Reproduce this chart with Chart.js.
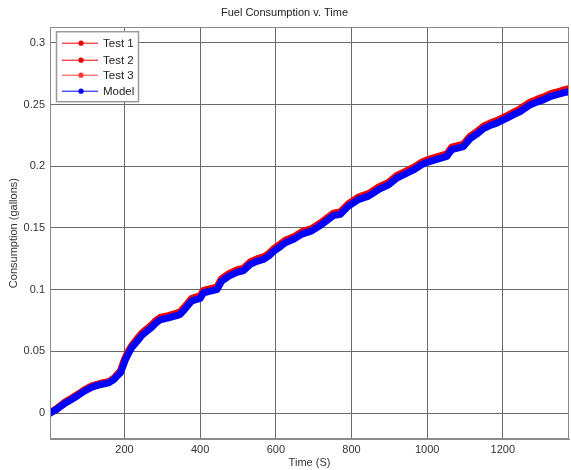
<!DOCTYPE html>
<html>
<head>
<meta charset="utf-8">
<script src="https://cdn.jsdelivr.net/npm/chart.js@4/dist/chart.umd.min.js"></script>
<style>
  html, body { margin: 0; padding: 0; background: #ffffff; }
  #wrap { width: 571px; height: 470px; }
</style>
</head>
<body>
<div id="wrap"><canvas id="c" width="571" height="470"></canvas></div>
<script>
const TITLE = 'Fuel Consumption v. Time';
const X_LABEL = 'Time (S)';
const Y_LABEL = 'Consumption (gallons)';
const SERIES_NAMES = ['Test 1', 'Test 2', 'Test 3', 'Model'];
const X_TICKS = [200, 400, 600, 800, 1000, 1200];
const Y_TICKS = [0, 0.05, 0.1, 0.15, 0.2, 0.25, 0.3];

const TIME = [3,20,43,60,78,95,114,135,158,171,
  180,189,196,202,210,220,233,246,258,272,
  283,294,316,338,347,356,367,378,400,409,
  430,444,457,476,497,515,532,550,567,580,
  594,610,625,648,669,695,722,752,770,792,
  818,845,871,898,920,944,964,986,1008,1030,
  1052,1065,1096,1114,1131,1149,1166,1184,1211,1230,
  1246,1272,1290,1307,1325,1343,1360,1375];

const MODEL = [0.000,0.003,0.008,0.011,0.0145,0.018,0.021,0.023,0.0245,0.027,
  0.030,0.0325,0.038,0.043,0.048,0.0535,0.058,0.063,0.066,0.0696,
  0.073,0.0755,0.0772,0.079,0.080,0.083,0.087,0.091,0.093,0.0975,
  0.099,0.100,0.107,0.111,0.114,0.1155,0.1205,0.123,0.1245,0.127,
  0.131,0.1345,0.138,0.141,0.145,0.1476,0.153,0.160,0.161,0.1677,
  0.173,0.1758,0.181,0.185,0.1905,0.194,0.197,0.2014,0.204,0.206,
  0.208,0.2135,0.216,0.2225,0.226,0.2305,0.233,0.235,0.239,0.242,
  0.2444,0.2497,0.252,0.2538,0.2565,0.258,0.2595,0.2605];

const TEST1 = [0.000,0.0035,0.009,0.012,0.0155,0.019,0.022,0.024,0.0255,0.028,
  0.031,0.034,0.040,0.045,0.050,0.055,0.060,0.065,0.068,0.0716,
  0.075,0.0775,0.079,0.081,0.082,0.085,0.089,0.093,0.095,0.0995,
  0.101,0.102,0.109,0.113,0.116,0.1175,0.1225,0.125,0.1265,0.129,
  0.133,0.1365,0.140,0.143,0.147,0.1496,0.155,0.162,0.163,0.1697,
  0.175,0.1778,0.183,0.187,0.1925,0.196,0.199,0.2034,0.206,0.208,
  0.210,0.2155,0.218,0.2245,0.228,0.2325,0.235,0.237,0.241,0.244,
  0.2466,0.2519,0.2542,0.256,0.2587,0.2602,0.2618,0.2628];

const TEST2 = [0.000,0.003,0.0085,0.0115,0.015,0.0185,0.0215,0.0235,0.025,0.0275,
  0.0305,0.0335,0.039,0.044,0.049,0.0545,0.059,0.064,0.067,0.0706,
  0.074,0.0765,0.0782,0.080,0.081,0.084,0.088,0.092,0.094,0.0985,
  0.100,0.101,0.108,0.112,0.115,0.1165,0.1215,0.124,0.1255,0.128,
  0.132,0.1355,0.139,0.142,0.146,0.1486,0.154,0.161,0.162,0.1687,
  0.174,0.1768,0.182,0.186,0.1915,0.195,0.198,0.2024,0.205,0.207,
  0.209,0.2145,0.217,0.2235,0.227,0.2315,0.234,0.236,0.240,0.243,
  0.2456,0.2509,0.2532,0.255,0.2577,0.2592,0.2608,0.2618];

const TEST3 = [0.000,0.0032,0.0088,0.0118,0.0152,0.0188,0.0218,0.0238,0.0252,0.0278,
  0.0308,0.0338,0.0395,0.0445,0.0495,0.0548,0.0595,0.0645,0.0675,0.071,
  0.0745,0.077,0.0786,0.0805,0.0815,0.0845,0.0885,0.0925,0.0945,0.099,
  0.1005,0.1015,0.1085,0.1125,0.1155,0.117,0.122,0.1245,0.126,0.1285,
  0.1325,0.136,0.1395,0.1425,0.1465,0.149,0.1545,0.1615,0.1625,0.169,
  0.1745,0.1773,0.1825,0.1865,0.192,0.1955,0.1985,0.203,0.2055,0.2075,
  0.2095,0.215,0.2175,0.224,0.2275,0.232,0.2345,0.2365,0.2405,0.2435,
  0.246,0.2514,0.2537,0.2555,0.2582,0.2597,0.2613,0.2623];

const COLORS = ['#f00000', '#e80000', '#ff3a3a', '#0000ff'];
const FONT = '"Liberation Sans", Arial, sans-serif';

function pts(vals) { return TIME.map((t, i) => ({ x: t, y: vals[i] })); }

function ds(label, vals, color, order) {
  return {
    label: label, data: pts(vals), borderColor: color, backgroundColor: color,
    borderWidth: 7, pointRadius: 0, tension: 0, order: order,
    borderJoinStyle: 'round', borderCapStyle: 'round'
  };
}

const framePlugin = {
  id: 'frame',
  afterDraw(chart) {
    const ctx = chart.ctx, a = chart.chartArea;
    ctx.save();
    ctx.strokeStyle = '#8a8a8a';
    ctx.lineWidth = 1;
    ctx.strokeRect(Math.round(a.left) + 0.5, Math.round(a.top) + 0.5,
      Math.round(a.right - a.left) - 1, Math.round(a.bottom - a.top) - 1);
    // legend box
    const bx = a.left + 6, by = a.top + 4, bw = 82, bh = 70;
    ctx.fillStyle = '#ffffff';
    ctx.fillRect(bx, by, bw, bh);
    ctx.strokeStyle = '#9a9a9a';
    ctx.lineWidth = 1.5;
    ctx.strokeRect(bx + 0.5, by + 0.5, bw, bh);
    const rows = [12, 29, 44, 60];
    ctx.font = '11.5px ' + FONT;
    ctx.textBaseline = 'middle';
    ctx.textAlign = 'left';
    chart.data.datasets.forEach((d, i) => {
      const y = by + rows[i];
      ctx.strokeStyle = d.borderColor;
      ctx.lineWidth = 1;
      ctx.beginPath();
      ctx.moveTo(bx + 6, y);
      ctx.lineTo(bx + 42, y);
      ctx.stroke();
      ctx.fillStyle = d.borderColor;
      ctx.beginPath();
      ctx.arc(bx + 25, y, 2.6, 0, Math.PI * 2);
      ctx.fill();
      ctx.fillStyle = '#222222';
      ctx.fillText(d.label, bx + 47, y + 0.5);
    });
    ctx.restore();
  }
};

new Chart(document.getElementById('c'), {
  type: 'line',
  data: {
    datasets: [
      ds(SERIES_NAMES[0], TEST1, COLORS[0], 1),
      ds(SERIES_NAMES[1], TEST2, COLORS[1], 1),
      ds(SERIES_NAMES[2], TEST3, COLORS[2], 1),
      ds(SERIES_NAMES[3], MODEL, COLORS[3], 0)
    ]
  },
  options: {
    responsive: false,
    animation: false,
    layout: { padding: { left: 0, right: 2, top: 0, bottom: 0 } },
    plugins: {
      legend: { display: false },
      tooltip: { enabled: false },
      title: {
        display: true, text: TITLE, color: '#222222',
        font: { family: FONT, size: 11, weight: 'normal' },
        padding: { top: 6, bottom: 8 }
      }
    },
    scales: {
      x: {
        type: 'linear', min: 3, max: 1375,
        afterBuildTicks: s => { s.ticks = X_TICKS.map(v => ({ value: v })); },
        afterFit: s => { s.height = 31; },
        ticks: { callback: v => String(v), color: '#333333', font: { family: FONT, size: 11 }, padding: 4, maxRotation: 0 },
        grid: { color: '#6a6a6a', lineWidth: 1, drawTicks: false },
        border: { display: true, color: '#8a8a8a' },
        title: { display: true, text: X_LABEL, color: '#333333', font: { family: FONT, size: 11 }, padding: { top: 0, bottom: 0 } }
      },
      y: {
        type: 'linear', min: -0.021, max: 0.3127,
        afterBuildTicks: s => { s.ticks = Y_TICKS.map(v => ({ value: v })); },
        afterFit: s => { s.width = 50; },
        ticks: { callback: v => String(v), color: '#333333', font: { family: FONT, size: 11 }, padding: 5 },
        grid: { color: '#6a6a6a', lineWidth: 1, drawTicks: false },
        border: { display: true, color: '#8a8a8a' },
        title: { display: true, text: Y_LABEL, color: '#333333', font: { family: FONT, size: 11 }, padding: { top: 7, bottom: 0 } }
      }
    }
  },
  plugins: [framePlugin]
});
</script>
</body>
</html>
